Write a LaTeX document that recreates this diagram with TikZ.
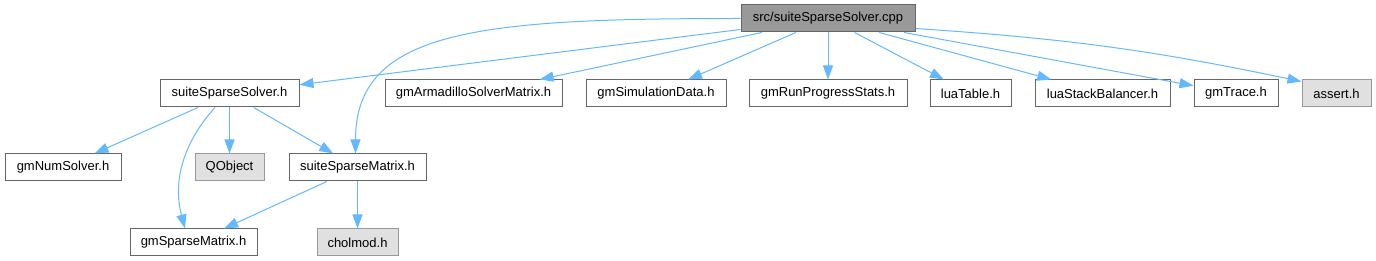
\documentclass[tikz,border=0pt]{standalone}
\usepackage{fontspec}
\setmainfont{Liberation Sans}
\usetikzlibrary{arrows.meta,calc}
\definecolor{edgeblue}{HTML}{63B8FF}
\definecolor{bordergray}{HTML}{666666}
\definecolor{lightborder}{HTML}{999999}
\definecolor{mainfill}{HTML}{999999}
\definecolor{extfill}{HTML}{E0E0E0}
\begin{document}
\begin{tikzpicture}[x=1pt,y=-1pt,
  box/.style={draw=bordergray,line width=1pt,fill=white,inner sep=0pt,
    minimum height=27pt,font=\fontsize{13}{15}\selectfont,text=black},
  mainbox/.style={box,fill=mainfill},
  extbox/.style={box,draw=lightborder,fill=extfill},
  dep/.style={draw=edgeblue,line width=1pt,-{Triangle[length=14pt,width=10pt]}}]
\useasboundingbox (0,0) rectangle (1376,261);
% nodes
\node[mainbox,minimum width=174pt] (cpp) at (828,18.5) {src/suiteSparseSolver.cpp};
\node[box,minimum width=139pt] (ssh) at (229.5,93.5) {suiteSparseSolver.h};
\node[box,minimum width=177pt] (arm) at (473.5,93.5) {gmArmadilloSolverMatrix.h};
\node[box,minimum width=140pt] (sim) at (656,93.5) {gmSimulationData.h};
\node[box,minimum width=158pt] (run) at (828,93.5) {gmRunProgressStats.h};
\node[box,minimum width=81pt] (luat) at (970.5,93.5) {luaTable.h};
\node[box,minimum width=135pt] (lsb) at (1102.5,93.5) {luaStackBalancer.h};
\node[box,minimum width=84pt] (trace) at (1236,93.5) {gmTrace.h};
\node[extbox,minimum width=69pt] (assert) at (1336.5,93.5) {assert.h};
\node[box,minimum width=116pt] (nums) at (63,167.5) {gmNumSolver.h};
\node[extbox,minimum width=69pt] (qobj) at (229.5,167.5) {QObject};
\node[box,minimum width=137pt] (ssm) at (357.5,167.5) {suiteSparseMatrix.h};
\node[box,minimum width=127pt] (gsm) at (193.5,242.5) {gmSparseMatrix.h};
\node[extbox,minimum width=81pt] (chol) at (357.5,242.5) {cholmod.h};
% edges from cpp
\draw[dep] (cpp) -- (ssh);
\draw[dep] (cpp.west) .. controls +(-261,0) and +(0,-124) .. ($(ssm.north)+(-2,0)$);
\draw[dep] (cpp) -- (arm);
\draw[dep] (cpp) -- (sim);
\draw[dep] (cpp) -- (run);
\draw[dep] (cpp) -- (luat);
\draw[dep] (cpp) -- (lsb);
\draw[dep] (cpp) -- (trace);
\draw[dep] ($(cpp.south east)+(0,-4)$) to[bend left=4] ($(assert.north west)+(0,2)$);
% edges from suiteSparseSolver.h
\draw[dep] (ssh) -- (nums);
\draw[dep] ($(ssh.south)+(-14.5,0)$) .. controls +(-30,33) and +(-13,-49) .. ($(gsm.north)+(-8.5,0)$);
\draw[dep] (ssh) -- (qobj);
\draw[dep] (ssh) -- (ssm);
% edges from suiteSparseMatrix.h
\draw[dep] (ssm) -- (gsm);
\draw[dep] (ssm) -- (chol);
\end{tikzpicture}
\end{document}
